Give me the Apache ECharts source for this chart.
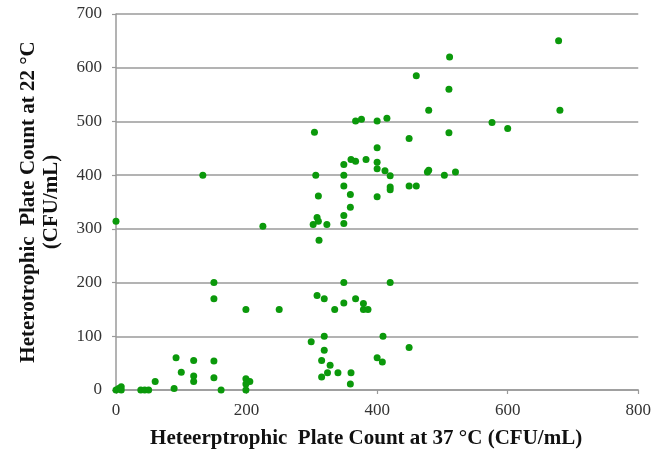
<!DOCTYPE html>
<html>
<head>
<meta charset="utf-8">
<script src="https://cdn.jsdelivr.net/npm/echarts@6.0.0/dist/echarts.min.js"></script>
<style>
  html, body { margin: 0; padding: 0; background: #fff; }
  #chart { width: 654px; height: 455px; }
</style>
</head>
<body>
<div id="chart"></div>
<script>
// HPC at 37 °C (x) vs HPC at 22 °C (y)
const hpc37 = [
  0, 0, 4, 8, 8, 38, 44, 50, 60, 89, 92, 100, 119, 119, 119, 133, 150, 150, 150, 150,
  161, 199, 199, 205, 199, 199, 225, 250, 299, 302, 304, 306, 308, 310, 310, 311, 308, 319, 319, 319,
  315, 328, 324, 315, 323, 335, 340, 349, 349, 349, 349, 349, 349, 349, 359, 359, 360, 367, 367, 376,
  383, 367, 379, 379, 386, 360, 359, 400, 400, 400, 400, 400, 400, 408, 409, 412, 420, 420, 420, 420,
  415, 449, 449, 460, 449, 460, 477, 479, 479, 503, 510, 510, 511, 520, 576, 600, 678, 680
];
const hpc22 = [
  314, 0, 3, 6, 0, 0, 0, 0, 16, 3, 60, 33, 55, 26, 16, 400, 200, 170, 54, 23,
  0, 150, 21, 16, 11, 0, 305, 150, 90, 308, 480, 400, 321, 314, 361, 279, 176, 170, 100, 74,
  55, 46, 32, 24, 308, 150, 32, 420, 400, 380, 325, 310, 200, 162, 364, 340, 429, 426, 501, 504,
  429, 170, 161, 150, 150, 32, 11, 501, 451, 424, 412, 360, 60, 52, 100, 408, 399, 378, 373, 200,
  506, 468, 380, 380, 79, 585, 406, 409, 521, 400, 479, 560, 620, 406, 498, 487, 650, 521
];
const xTicks = { min: 0, max: 800, interval: 200 };
const yTicks = { min: 0, max: 700, interval: 100 };

const points = hpc37.map((x, i) => [x, hpc22[i]]);

const chart = echarts.init(document.getElementById('chart'), null, { renderer: 'canvas' });
const serif = '"Liberation Serif", "DejaVu Serif", serif';
const lineGray = '#9a9a9a';

chart.setOption({
  backgroundColor: '#ffffff',
  animation: false,
  grid: { left: 116, right: 15, top: 14, bottom: 65 },
  xAxis: {
    type: 'value',
    min: xTicks.min,
    max: xTicks.max,
    interval: xTicks.interval,
    name: 'Heteerptrophic  Plate Count at 37 °C (CFU/mL)',
    nameLocation: 'middle',
    nameGap: 38,
    nameTextStyle: { fontFamily: serif, fontSize: 21, fontWeight: 'bold', color: '#111', padding: [0, 22, 0, 0] },
    axisLine: { show: true, lineStyle: { color: lineGray, width: 1.5 } },
    axisTick: { show: true, length: 4, lineStyle: { color: lineGray, width: 1.2 } },
    axisLabel: { fontFamily: serif, fontSize: 17, color: '#333', margin: 12 },
    splitLine: { show: false }
  },
  yAxis: {
    type: 'value',
    min: yTicks.min,
    max: yTicks.max,
    interval: yTicks.interval,
    name: 'Heterotrophic  Plate Count at 22 °C\n(CFU/mL)',
    nameLocation: 'middle',
    nameGap: 53,
    nameRotate: 90,
    nameTextStyle: { fontFamily: serif, fontSize: 21, fontWeight: 'bold', color: '#111', lineHeight: 23 },
    axisLine: { show: true, lineStyle: { color: lineGray, width: 1.5 } },
    axisTick: { show: true, length: 4, lineStyle: { color: lineGray, width: 1.2 } },
    axisLabel: { fontFamily: serif, fontSize: 17, color: '#333', margin: 14 },
    splitLine: { show: true, lineStyle: { color: lineGray, width: 1.5 } }
  },
  series: [
    {
      name: 'HPC',
      type: 'scatter',
      symbol: 'circle',
      symbolSize: 7,
      itemStyle: { color: '#0b990b', opacity: 1 },
      data: points
    }
  ]
});
</script>
</body>
</html>
